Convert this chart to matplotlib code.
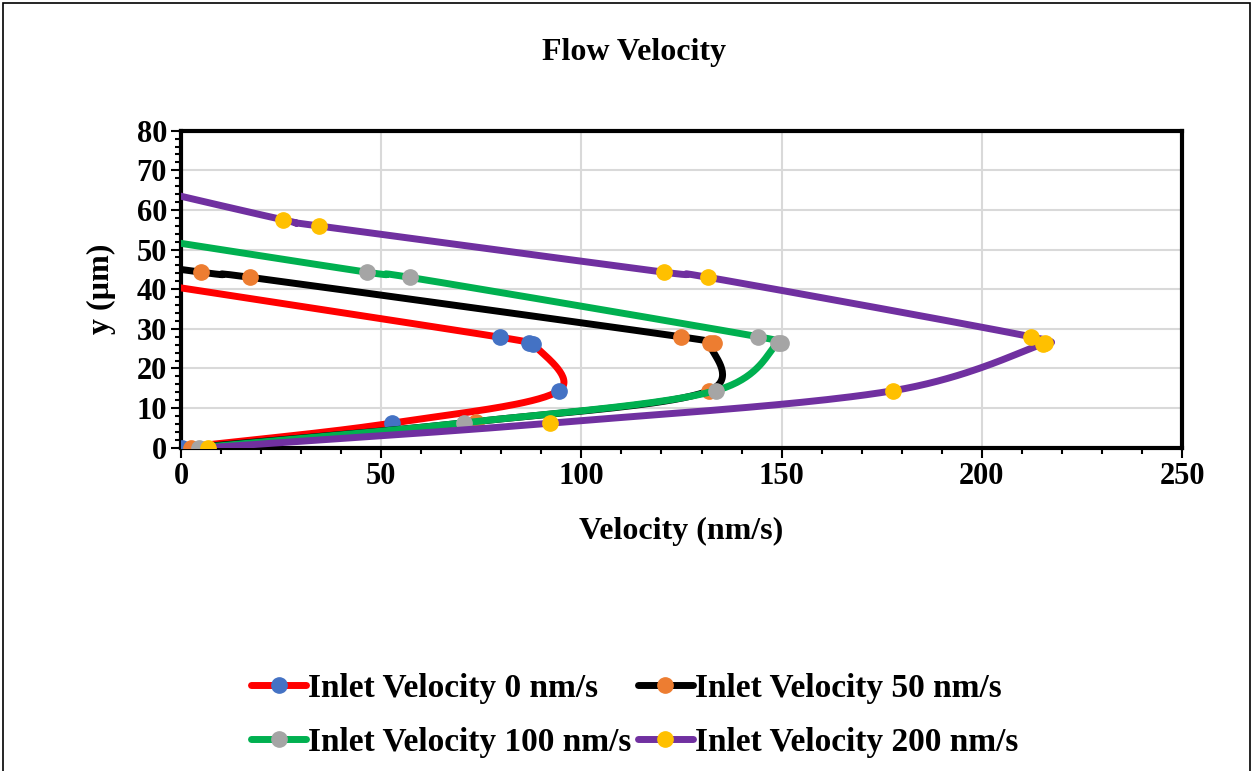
import numpy as np
import matplotlib
matplotlib.use("Agg")
import matplotlib.pyplot as plt
from matplotlib.patches import Rectangle
from matplotlib.ticker import MultipleLocator

plt.rcParams["font.family"] = ["Liberation Serif", "DejaVu Serif"]
plt.rcParams["font.weight"] = "bold"

# velocity profiles (nm/s) against channel height y (um); points past x=0 get clipped
y_0 = [0.0, 6.2, 14.4, 26.2, 26.3, 27.9, 43.0, 44.3, 56.0, 57.5]
v_0 = [0.3, 52.6, 94.4, 87.9, 86.9, 79.6, -17.3, -25.7, -100.0, -110.0]

y_50 = [0.0, 6.6, 14.4, 26.3, 26.4, 28.0, 43.0, 44.3, 56.0, 57.5]
v_50 = [2.6, 73.7, 131.9, 132.0, 133.0, 124.8, 17.3, 5.0, -78.6, -89.0]

y_100 = [0.0, 6.3, 14.4, 26.3, 26.4, 28.0, 43.0, 44.3, 56.0, 57.5]
v_100 = [4.5, 70.8, 133.5, 149.0, 149.8, 144.2, 57.1, 46.4, -28.0, -37.6]

y_200 = [0.0, 6.2, 14.4, 26.2, 26.3, 28.0, 43.0, 44.3, 56.0, 57.5, 69.5]
v_200 = [6.8, 92.2, 177.9, 215.3, 215.9, 212.3, 131.6, 120.6, 34.4, 25.6, -25.6]

labels = ["Inlet Velocity 0 nm/s", "Inlet Velocity 50 nm/s",
          "Inlet Velocity 100 nm/s", "Inlet Velocity 200 nm/s"]
line_colors = ["#ff0000", "#000000", "#00b050", "#7030a0"]
marker_colors = ["#4472c4", "#ed7d31", "#a5a5a5", "#ffc000"]


def smooth(xs, ys, n=40, alpha=0.1):
    # Catmull-Rom with chord-length knots, keeps bunched points from overshooting
    P = np.column_stack([xs, ys]).astype(float)
    pad = np.vstack([2 * P[0] - P[1], P, 2 * P[-1] - P[-2]])
    out = []
    for i in range(len(P) - 1):
        p0, p1, p2, p3 = pad[i], pad[i + 1], pad[i + 2], pad[i + 3]
        t0 = 0.0
        t1 = t0 + max(np.linalg.norm(p1 - p0), 1e-6) ** alpha
        t2 = t1 + max(np.linalg.norm(p2 - p1), 1e-6) ** alpha
        t3 = t2 + max(np.linalg.norm(p3 - p2), 1e-6) ** alpha
        t = np.linspace(t1, t2, n)[:, None]
        a1 = (t1 - t) / (t1 - t0) * p0 + (t - t0) / (t1 - t0) * p1
        a2 = (t2 - t) / (t2 - t1) * p1 + (t - t1) / (t2 - t1) * p2
        a3 = (t3 - t) / (t3 - t2) * p2 + (t - t2) / (t3 - t2) * p3
        b1 = (t2 - t) / (t2 - t0) * a1 + (t - t0) / (t2 - t0) * a2
        b2 = (t3 - t) / (t3 - t1) * a2 + (t - t1) / (t3 - t1) * a3
        out.append((t2 - t) / (t2 - t1) * b1 + (t - t1) / (t2 - t1) * b2)
    c = np.vstack(out)
    return c[:, 0], c[:, 1]


fig = plt.figure(figsize=(12.54, 7.71), dpi=100)
ax = fig.add_axes([0.1443, 0.4193, 0.7983, 0.4112])

series = [(v_0, y_0), (v_50, y_50), (v_100, y_100), (v_200, y_200)]
handles = []
for (vs, ys), lab, lc, mc in zip(series, labels, line_colors, marker_colors):
    sx, sy = smooth(vs, ys)
    ax.plot(sx, sy, color=lc, lw=5, solid_capstyle="round", zorder=3)
    ax.plot(vs, ys, ls="none", marker="o", ms=11, mfc=mc, mec=mc, zorder=3)
    h, = ax.plot([], [], color=lc, lw=5, marker="o", ms=11, mfc=mc, mec=mc,
                 solid_capstyle="round")
    handles.append(h)

ax.set_xlim(0, 250)
ax.set_ylim(0, 80)
ax.xaxis.set_major_locator(MultipleLocator(50))
ax.xaxis.set_minor_locator(MultipleLocator(10))
ax.yaxis.set_major_locator(MultipleLocator(10))
ax.yaxis.set_minor_locator(MultipleLocator(2))
ax.grid(True, which="major", color="#d9d9d9", lw=1.5, zorder=0)
ax.set_axisbelow(True)
for s in ax.spines.values():
    s.set_linewidth(3)
    s.set_color("black")
ax.tick_params(which="major", direction="out", length=7, width=1.5,
               labelsize=22, pad=3)
ax.tick_params(which="minor", direction="out", length=4, width=1.5)
for lbl in ax.get_xticklabels() + ax.get_yticklabels():
    lbl.set_fontweight("bold")

ax.set_xlabel("Velocity (nm/s)", fontsize=23, fontweight="bold", labelpad=19)
ax.set_ylabel("y (µm)", fontsize=23, fontweight="bold", labelpad=15)
fig.text(0.5055, 0.932, "Flow Velocity", ha="center", va="center",
         fontsize=23, fontweight="bold")

# row-wise legend order
order = [0, 2, 1, 3]
fig.legend([handles[i] for i in order], [labels[i] for i in order],
           loc="center", bbox_to_anchor=(0.506, 0.072),
           ncol=2, frameon=False, handlelength=1.65, handletextpad=0.05,
           columnspacing=0.2, labelspacing=0.68,
           prop={"size": 24, "weight": "bold"})

fig.patches.append(Rectangle((0.0025, -0.05), 0.9945, 1.046,
                             transform=fig.transFigure, fill=False,
                             ec="black", lw=1.2))

fig.savefig("out.png", dpi=100)
